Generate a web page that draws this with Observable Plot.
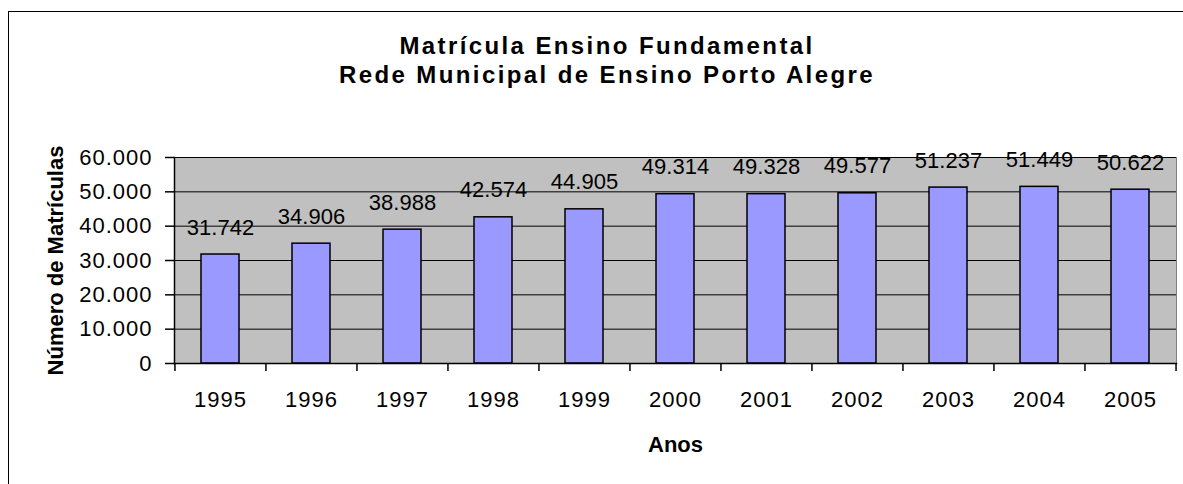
<!DOCTYPE html>
<html>
<head>
<meta charset="utf-8">
<script src="https://cdn.jsdelivr.net/npm/d3@7"></script>
<script src="https://cdn.jsdelivr.net/npm/@observablehq/plot@0.6"></script>
<style>
  html, body { margin: 0; padding: 0; background: #fff; }
  #wrap { position: relative; width: 1183px; height: 484px; overflow: hidden; font-family: "Liberation Sans", Arial, sans-serif; }
  #border { position: absolute; left: 8px; top: 11px; width: 1300px; height: 600px; border: 1.5px solid #000; box-sizing: border-box; }
  #title { position: absolute; left: 8px; width: 1198px; top: 31px; text-align: center; font-weight: bold; font-size: 24px; letter-spacing: 2.4px; line-height: 29px; color: #000; }
  #chart { position: absolute; left: 0; top: 0; }
</style>
</head>
<body>
<div id="wrap">
  <div id="border"></div>
  <div id="title">Matrícula Ensino Fundamental<br>Rede Municipal de Ensino Porto Alegre</div>
  <div id="chart"></div>
</div>
<script>
const years = ["1995","1996","1997","1998","1999","2000","2001","2002","2003","2004","2005"];
const values = [31742, 34906, 38988, 42574, 44905, 49314, 49328, 49577, 51237, 51449, 50622];
const yTicks = [0, 10000, 20000, 30000, 40000, 50000, 60000];
const yTitle = "Número de Matrículas";
const xTitle = "Anos";

const data = years.map((y, i) => ({year: y, value: values[i]}));
const fmt = d => d3.format(",")(d).replace(/,/g, ".");

const W = 1183, H = 484;
const mL = 174, mR = 7, mT = 157, mB = 121;
const pIn = 0.58, pOut = 0.29;
const step = (W - mL - mR) / (years.length - pIn + 2 * pOut);
const frameH = H - mT - mB;

const font = `"Liberation Sans", Arial, sans-serif`;

const plot = Plot.plot({
  width: W,
  height: H,
  marginLeft: mL,
  marginRight: mR,
  marginTop: mT,
  marginBottom: mB,
  style: {fontFamily: font, background: "transparent", overflow: "visible"},
  x: {domain: years, paddingInner: pIn, paddingOuter: pOut, align: 0.5},
  y: {domain: [0, 60000]},
  marks: [
    Plot.frame({fill: "#c0c0c0", stroke: "#808080", strokeWidth: 1}),
    Plot.ruleY(yTicks, {stroke: "#000", strokeWidth: 1}),
    Plot.barY(data, {x: "year", y: "value", fill: "#9999ff", stroke: "#000", strokeWidth: 1.5}),
    Plot.text(data, {x: "year", y: "value", text: d => fmt(d.value), dy: -27, lineAnchor: "middle",
      fontSize: 22, fill: "#000", style: {letterSpacing: "1px"}}),
    // y axis line and x axis line
    Plot.frame({anchor: "left", stroke: "#000", strokeWidth: 1.5}),
    Plot.frame({anchor: "bottom", stroke: "#000", strokeWidth: 1.5}),
    Plot.axisY({ticks: yTicks, tickFormat: fmt, tickSize: 9, tickPadding: 13, fontSize: 22, label: null,
      stroke: "#000", strokeWidth: 1.5, color: "#000"}),
    Plot.axisX({tickSize: 0, tickPadding: 28, fontSize: 22, label: null, color: "#000"}),
    // x ticks at category boundaries
    Plot.ruleX(years, {x: d => d, dx: -step / 2, insetTop: frameH, insetBottom: -8, stroke: "#000", strokeWidth: 1.5}),
    Plot.ruleX([years[years.length - 1]], {x: d => d, dx: step / 2, insetTop: frameH, insetBottom: -8, stroke: "#000", strokeWidth: 1.5}),
    Plot.text([yTitle], {text: d => d, frameAnchor: "left", textAnchor: "middle", lineAnchor: "middle", dx: -119, rotate: -90,
      fontSize: 22, fontWeight: "bold", fill: "#000", style: {letterSpacing: "0.7px"}}),
    Plot.text([xTitle], {text: d => d, frameAnchor: "bottom", textAnchor: "middle", lineAnchor: "middle", dy: 81,
      fontSize: 22, fontWeight: "bold", fill: "#000", style: {letterSpacing: "0.5px"}})
  ]
});

// letter spacing on axis labels
plot.querySelectorAll("[aria-label='y-axis tick label'] text, [aria-label='x-axis tick label'] text").forEach(t => {
  t.style.letterSpacing = "1px";
});
document.getElementById("chart").appendChild(plot);
</script>
</body>
</html>
